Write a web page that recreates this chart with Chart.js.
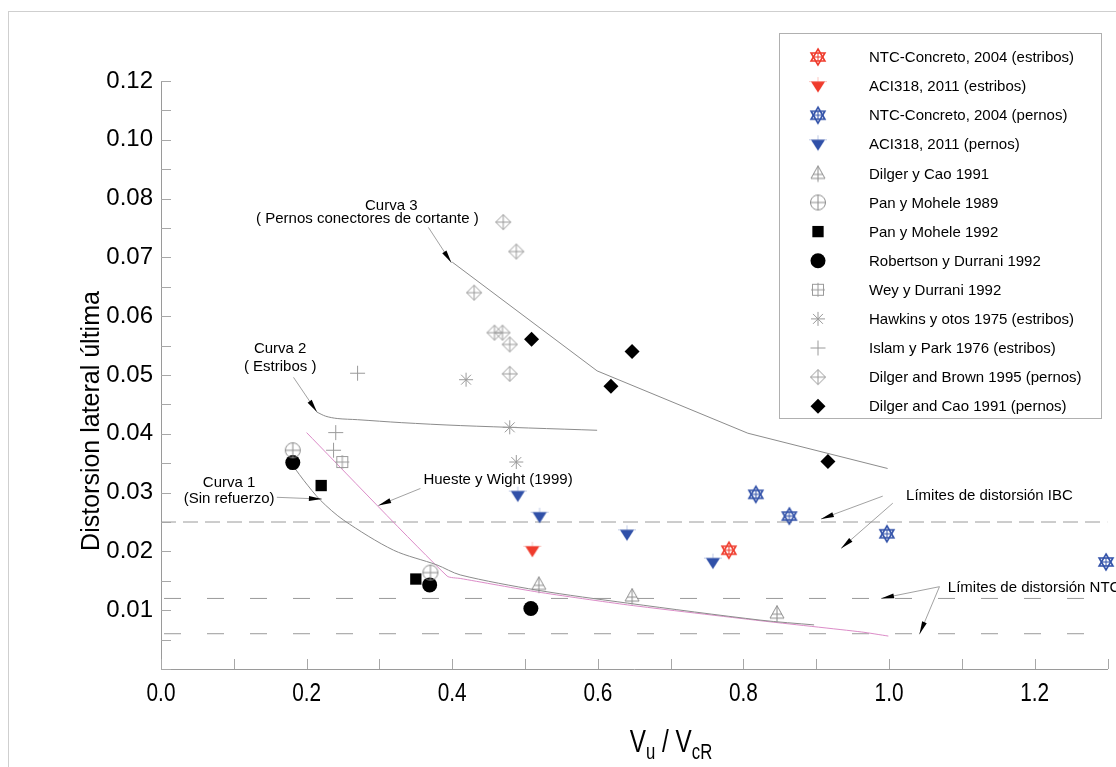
<!DOCTYPE html>
<html>
<head>
<meta charset="utf-8">
<script src="https://cdn.jsdelivr.net/npm/chart.js@4.4.0/dist/chart.umd.min.js"></script>
<style>
  html, body { margin: 0; padding: 0; background: #fff; }
  #wrap { width: 1116px; height: 767px; }
</style>
</head>
<body>
<div id="wrap"><canvas id="chart" width="1116" height="767"></canvas></div>
<script>
// ---- values: [Vu/VcR, distorsion] ----
const ntcEstribos = [[0.78, 0.0202]];
const aciEstribos = [[0.51, 0.0201]];
const ntcPernos = [[0.817, 0.0297], [0.863, 0.0260], [0.997, 0.0230], [1.298, 0.0182]];
const aciPernos = [[0.49, 0.0295], [0.52, 0.0259], [0.64, 0.0229], [0.758, 0.0181]];
const dilgerCao = [[0.519, 0.0144], [0.647, 0.0124], [0.846, 0.0095]];
const panMohele89 = [[0.181, 0.0372], [0.37, 0.0164]];
const panMohele92 = [[0.22, 0.0312], [0.35, 0.0153]];
const robertsonDurrani = [[0.181, 0.0351], [0.369, 0.0143], [0.508, 0.0103]];
const weyDurrani = [[0.249, 0.0352]];
const hawkins = [[0.419, 0.0492], [0.479, 0.0411], [0.488, 0.0352]];
const islamPark = [[0.27, 0.0503], [0.24, 0.0402], [0.237, 0.0372]];
const dilgerBrown = [[0.47, 0.0760], [0.488, 0.0710], [0.43, 0.0640], [0.458, 0.0572],
                     [0.469, 0.0572], [0.479, 0.0552], [0.479, 0.0502]];
const dilgerCaoPernos = [[0.509, 0.0561], [0.647, 0.0540], [0.618, 0.0481], [0.916, 0.0353]];

// curves
const curva1 = [[0.184, 0.0341], [0.196, 0.0321], [0.219, 0.0287], [0.251, 0.0253], [0.3195, 0.0202],
                [0.379, 0.0177], [0.411, 0.0160], [0.517, 0.0134], [0.641, 0.0112], [0.824, 0.0083], [0.897, 0.0075]];
const curva2 = [[0.214, 0.0437], [0.226, 0.0430], [0.242, 0.0426], [0.27, 0.0424], [0.33, 0.0419],
                [0.411, 0.0414], [0.599, 0.0406]];
const curva3 = [[0.40, 0.0692], [0.599, 0.0507], [0.806, 0.0401], [0.998, 0.0341]];
const huesteWight = [[0.20, 0.0402], [0.393, 0.0158], [0.411, 0.0154], [0.517, 0.0131], [0.641, 0.0109],
                     [0.824, 0.0082], [0.962, 0.0063], [0.999, 0.0056]];
const limitesIBC = [0.025];
const limitesNTC = [0.012, 0.006];

// axes
const xTickLabels = ['0.0', '0.2', '0.4', '0.6', '0.8', '1.0', '1.2'];
const yTickLabels = ['0.01', '0.02', '0.03', '0.04', '0.05', '0.06', '0.07', '0.08', '0.10', '0.12'];

const GRAY = '#8c8c8c';
const FONT = '"Liberation Sans", Arial, sans-serif';

// ---- marker images ----
function marker(draw) {
    const c = document.createElement('canvas');
    c.width = c.height = 22;
    const g = c.getContext('2d');
    g.translate(11, 11);
    draw(g);
    return c;
}
function hexStar(color) {
    return marker(g => {
        g.strokeStyle = color;
        g.lineWidth = 1.6;
        for (let k = 0; k < 2; k++) {
            g.beginPath();
            for (let i = 0; i < 3; i++) {
                const a = -Math.PI / 2 + k * Math.PI + i * 2 * Math.PI / 3;
                const px = 8 * Math.cos(a), py = 8 * Math.sin(a);
                i ? g.lineTo(px, py) : g.moveTo(px, py);
            }
            g.closePath();
            g.stroke();
        }
        g.lineWidth = 1;
        g.beginPath();
        g.moveTo(-4, 0); g.lineTo(4, 0);
        g.moveTo(0, -4); g.lineTo(0, 4);
        g.stroke();
    });
}
function downTri(color) {
    return marker(g => {
        g.globalAlpha = 0.3;
        g.strokeStyle = color;
        g.lineWidth = 1;
        g.beginPath();
        g.moveTo(-9, -4.5); g.lineTo(9, -4.5);
        g.moveTo(0, -9); g.lineTo(0, -4.5);
        g.stroke();
        g.globalAlpha = 1;
        g.fillStyle = color;
        g.beginPath();
        g.moveTo(-7, -4.5); g.lineTo(7, -4.5); g.lineTo(0, 6.5);
        g.closePath();
        g.fill();
    });
}
const triCross = marker(g => {
    g.strokeStyle = GRAY; g.lineWidth = 1;
    g.beginPath();
    g.moveTo(0, -7.5); g.lineTo(7, 5); g.lineTo(-7, 5); g.closePath();
    g.moveTo(0, -7.5); g.lineTo(0, 8.5);
    g.moveTo(-5, 1); g.lineTo(5, 1);
    g.stroke();
});
const circleCross = marker(g => {
    g.strokeStyle = GRAY; g.lineWidth = 1;
    g.beginPath(); g.arc(0, 0, 7.5, 0, Math.PI * 2); g.stroke();
    g.beginPath();
    g.moveTo(-7.5, 0); g.lineTo(7.5, 0);
    g.moveTo(0, -7.5); g.lineTo(0, 7.5);
    g.stroke();
});
const squareCross = marker(g => {
    g.strokeStyle = '#9a9a9a'; g.lineWidth = 1;
    g.strokeRect(-5.5, -5.5, 11, 11);
    g.beginPath();
    g.moveTo(-7, 0); g.lineTo(7, 0);
    g.moveTo(0, -7); g.lineTo(0, 7);
    g.stroke();
});
const diamondCross = marker(g => {
    g.strokeStyle = '#9a9a9a'; g.lineWidth = 1;
    g.beginPath();
    g.moveTo(0, -7.5); g.lineTo(7.5, 0); g.lineTo(0, 7.5); g.lineTo(-7.5, 0); g.closePath();
    g.moveTo(-7.5, 0); g.lineTo(7.5, 0);
    g.moveTo(0, -7.5); g.lineTo(0, 7.5);
    g.stroke();
});

const pts = arr => arr.map(([x, y]) => ({ x, y }));

const markerSeries = [
    { label: 'NTC-Concreto, 2004 (estribos)', data: ntcEstribos, pointStyle: hexStar('#ef3b2c') },
    { label: 'ACI318, 2011 (estribos)', data: aciEstribos, pointStyle: downTri('#ef3b2c') },
    { label: 'NTC-Concreto, 2004 (pernos)', data: ntcPernos, pointStyle: hexStar('#3050a8') },
    { label: 'ACI318, 2011 (pernos)', data: aciPernos, pointStyle: downTri('#3050a8') },
    { label: 'Dilger y Cao 1991', data: dilgerCao, pointStyle: triCross },
    { label: 'Pan y Mohele 1989', data: panMohele89, pointStyle: circleCross },
    { label: 'Pan y Mohele 1992', data: panMohele92, pointStyle: 'rect', radius: 8, fill: '#000' },
    { label: 'Robertson y Durrani 1992', data: robertsonDurrani, pointStyle: 'circle', radius: 7.5, fill: '#000' },
    { label: 'Wey y Durrani 1992', data: weyDurrani, pointStyle: squareCross },
    { label: 'Hawkins y otos 1975 (estribos)', data: hawkins, pointStyle: 'star', radius: 7, stroke: '#9a9a9a' },
    { label: 'Islam y Park 1976 (estribos)', data: islamPark, pointStyle: 'cross', radius: 7.5, stroke: '#9a9a9a' },
    { label: 'Dilger and Brown 1995 (pernos)', data: dilgerBrown, pointStyle: diamondCross },
    { label: 'Dilger and Cao 1991 (pernos)', data: dilgerCaoPernos, pointStyle: 'rectRot', radius: 7.5, fill: '#000' }
];

const lineSet = (data, color, extra) => Object.assign({
    data: pts(data), showLine: true, pointRadius: 0, pointHoverRadius: 0,
    borderColor: color, borderWidth: 1, order: 10, fill: false
}, extra);

const datasets = [
    lineSet(curva1, GRAY, { tension: 0.3 }),
    lineSet(curva2, GRAY, { tension: 0.3 }),
    lineSet(curva3, GRAY, { tension: 0 }),
    lineSet(huesteWight, '#dc8cc8', { tension: 0.2 }),
    ...limitesIBC.map(v => lineSet([[0, v], [1.3, v]], '#9a9a9a', { borderDash: [15, 7] })),
    ...limitesNTC.map(v => lineSet([[0, v], [1.3, v]], '#9a9a9a', { borderDash: [17, 26], borderDashOffset: -3 })),
    ...markerSeries.map(s => ({
        label: s.label,
        data: pts(s.data),
        pointStyle: s.pointStyle,
        pointRadius: s.radius || 8,
        pointHoverRadius: s.radius || 8,
        backgroundColor: s.fill || 'transparent',
        borderColor: s.stroke || s.fill || GRAY,
        borderWidth: s.stroke ? 1 : 0,
        showLine: false,
        clip: false,
        order: 0
    }))
];

// annotations, in data units
const notes = [
    { text: 'Curva 3', x: 0.3162, y: 0.0781 },
    { text: '( Pernos conectores de cortante )', x: 0.2834, y: 0.0759 },
    { text: 'Curva 2', x: 0.1637, y: 0.0537 },
    { text: '( Estribos )', x: 0.1637, y: 0.0507 },
    { text: 'Curva 1', x: 0.0935, y: 0.0309 },
    { text: '(Sin refuerzo)', x: 0.0935, y: 0.0282 },
    { text: 'Hueste y Wight (1999)', x: 0.3604, y: 0.0314, align: 'left' },
    { text: 'Límites de distorsión IBC', x: 1.0234, y: 0.0287, align: 'left' },
    { text: 'Límites de distorsión NTC', x: 1.0807, y: 0.0131, align: 'left' }
];
const arrows = [
    [[0.3673, 0.0751], [0.3989, 0.0691]],
    [[0.182, 0.0496], [0.2142, 0.0437]],
    [[0.1591, 0.0292], [0.221, 0.0289]],
    [[0.3563, 0.0307], [0.2985, 0.0278]],
    [[0.9913, 0.0294], [0.9065, 0.0255]],
    [[1.0051, 0.0282], [0.934, 0.0205]],
    [[1.0692, 0.0140], [0.989, 0.0120]],
    [[1.0692, 0.0140], [1.0417, 0.0059]]
];

const decor = {
    id: 'decor',
    beforeDraw(chart) {
        const ctx = chart.ctx;
        ctx.save();
        ctx.fillStyle = '#fff';
        ctx.fillRect(0, 0, chart.width, chart.height);
        ctx.strokeStyle = '#cfcfcf';
        ctx.lineWidth = 1;
        ctx.strokeRect(8.5, 11.5, 1300, 900);
        ctx.restore();
    },
    afterDraw(chart) {
        const ctx = chart.ctx;
        const xs = chart.scales.x, ys = chart.scales.y;
        const a = chart.chartArea;
        ctx.save();
        // inner tick marks
        ctx.strokeStyle = '#a8a8a8';
        ctx.lineWidth = 1;
        ctx.beginPath();
        xs.ticks.forEach(t => {
            const px = Math.round(xs.getPixelForValue(t.value)) + 0.5;
            ctx.moveTo(px, a.bottom); ctx.lineTo(px, a.bottom - 10);
        });
        for (let i = 0; i <= 20; i++) {
            const py = Math.round(ys.getPixelForValue(i * 0.005)) + 0.5;
            ctx.moveTo(a.left, py); ctx.lineTo(a.left + 10, py);
        }
        ctx.stroke();

        // x tick labels (condensed face, as in the original)
        ctx.fillStyle = '#000';
        ctx.font = '26px ' + FONT;
        ctx.textAlign = 'center';
        ctx.textBaseline = 'middle';
        xs.ticks.forEach((t, i) => {
            if (i % 2 || !xTickLabels[i / 2]) return;
            ctx.save();
            ctx.translate(xs.getPixelForValue(t.value), a.bottom + 25);
            ctx.scale(0.8, 1);
            ctx.fillText(xTickLabels[i / 2], 0, 0);
            ctx.restore();
        });

        // arrows
        arrows.forEach(([f, t]) => {
            const x1 = xs.getPixelForValue(f[0]), y1 = ys.getPixelForValue(f[1]);
            const x2 = xs.getPixelForValue(t[0]), y2 = ys.getPixelForValue(t[1]);
            ctx.strokeStyle = '#8a8a8a';
            ctx.lineWidth = 0.8;
            ctx.beginPath(); ctx.moveTo(x1, y1); ctx.lineTo(x2, y2); ctx.stroke();
            const ang = Math.atan2(y2 - y1, x2 - x1);
            ctx.fillStyle = '#000';
            ctx.beginPath();
            ctx.moveTo(x2, y2);
            ctx.lineTo(x2 - 13 * Math.cos(ang) + 2.5 * Math.sin(ang), y2 - 13 * Math.sin(ang) - 2.5 * Math.cos(ang));
            ctx.lineTo(x2 - 13 * Math.cos(ang) - 2.5 * Math.sin(ang), y2 - 13 * Math.sin(ang) + 2.5 * Math.cos(ang));
            ctx.closePath();
            ctx.fill();
        });

        // notes
        ctx.fillStyle = '#000';
        ctx.font = '15px ' + FONT;
        ctx.textBaseline = 'alphabetic';
        notes.forEach(n => {
            ctx.textAlign = n.align || 'center';
            ctx.fillText(n.text, xs.getPixelForValue(n.x), ys.getPixelForValue(n.y));
        });

        // axis titles
        ctx.save();
        ctx.translate(92, 421);
        ctx.rotate(-Math.PI / 2);
        ctx.textAlign = 'center';
        ctx.textBaseline = 'middle';
        ctx.font = '25px ' + FONT;
        ctx.fillText('Distorsion lateral última', 0, 0);
        ctx.restore();

        const parts = [['V', 32, 0], ['u', 22, 7], [' / V', 32, 0], ['cR', 22, 7]];
        ctx.textAlign = 'left';
        let total = 0;
        parts.forEach(p => { ctx.font = p[1] + 'px ' + FONT; total += ctx.measureText(p[0]).width; });
        ctx.save();
        ctx.translate(671, 0);
        ctx.scale(0.76, 1);
        let cx = -total / 2;
        parts.forEach(p => {
            ctx.font = p[1] + 'px ' + FONT;
            ctx.fillText(p[0], cx, 752 + p[2]);
            cx += ctx.measureText(p[0]).width;
        });
        ctx.restore();

        // legend
        ctx.strokeStyle = '#b0b0b0';
        ctx.lineWidth = 1;
        ctx.fillStyle = '#fff';
        ctx.fillRect(779.5, 33.5, 322, 385);
        ctx.strokeRect(779.5, 33.5, 322, 385);
        ctx.font = '15px ' + FONT;
        ctx.textBaseline = 'middle';
        ctx.textAlign = 'left';
        markerSeries.forEach((s, i) => {
            const ly = 57 + i * 29.1;
            if (typeof s.pointStyle === 'string') {
                ctx.fillStyle = s.fill || 'transparent';
                ctx.strokeStyle = s.stroke || s.fill;
                ctx.lineWidth = 1;
                Chart.helpers.drawPoint(ctx, {
                    pointStyle: s.pointStyle, radius: s.radius, rotation: 0,
                    borderWidth: s.stroke ? 1 : 0
                }, 818, ly);
            } else {
                ctx.drawImage(s.pointStyle, 818 - 11, ly - 11);
            }
            ctx.fillStyle = '#000';
            ctx.fillText(s.label, 869, ly + 1);
        });
        ctx.restore();
    }
};

new Chart(document.getElementById('chart'), {
    type: 'scatter',
    data: { datasets },
    plugins: [decor],
    options: {
        responsive: false,
        animation: false,
        layout: { padding: { top: 81, right: 7, left: 0, bottom: 0 } },
        plugins: { legend: { display: false }, tooltip: { enabled: false } },
        scales: {
            x: {
                type: 'linear', min: 0, max: 1.3,
                border: { display: true, color: '#9a9a9a', width: 1 },
                grid: { display: false, drawTicks: false },
                afterBuildTicks: s => { s.ticks = Array.from({ length: 14 }, (_, i) => ({ value: i * 0.1 })); },
                ticks: { display: false, autoSkip: false },
                afterFit: s => { s.height = 98; }
            },
            y: {
                type: 'linear', min: 0, max: 0.10,
                border: { display: true, color: '#9a9a9a', width: 1 },
                grid: { display: false, drawTicks: false },
                afterBuildTicks: s => { s.ticks = Array.from({ length: 11 }, (_, i) => ({ value: i * 0.01 })); },
                ticks: {
                    autoSkip: false, padding: 8, color: '#000',
                    font: { family: FONT, size: 24 },
                    callback: (v, i) => i === 0 ? '' : yTickLabels[i - 1]
                },
                afterFit: s => { s.width = 161; }
            }
        }
    }
});
</script>
</body>
</html>
